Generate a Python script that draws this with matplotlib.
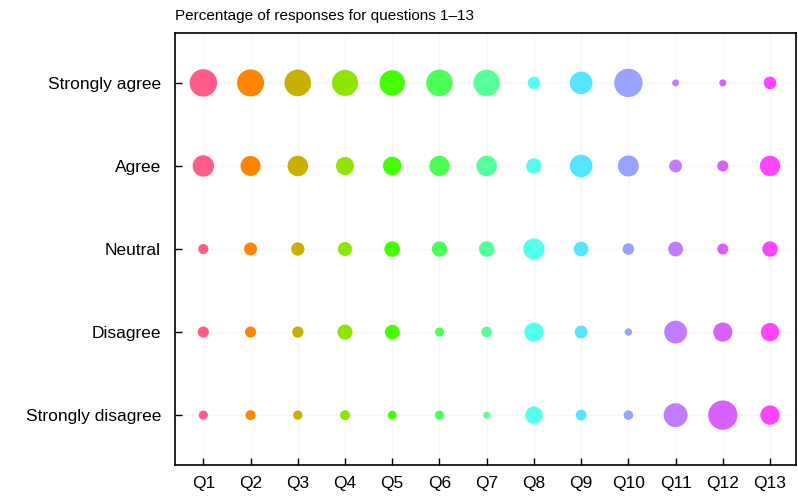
import numpy as np
import matplotlib.pyplot as plt

plt.rcParams['font.family'] = ['Liberation Sans', 'DejaVu Sans']

questions = ['Q1', 'Q2', 'Q3', 'Q4', 'Q5', 'Q6', 'Q7', 'Q8', 'Q9', 'Q10', 'Q11', 'Q12', 'Q13']
responses = ['Strongly agree', 'Agree', 'Neutral', 'Disagree', 'Strongly disagree']

# percentage of responses per question (rows follow `responses`)
strongly_agree = [49.5, 48.0, 46.7, 44.4, 42.3, 46.2, 45.7, 10.3, 33.6, 52.8, 3.2, 3.3, 10.4]
agree = [30.0, 26.3, 27.6, 21.3, 22.6, 27.3, 27.6, 15.7, 33.6, 29.0, 10.9, 8.1, 27.1]
neutral = [6.8, 11.1, 11.7, 12.9, 16.0, 15.4, 16.0, 29.6, 14.3, 8.8, 14.5, 8.1, 15.7]
disagree = [8.2, 8.0, 8.4, 14.8, 14.1, 5.5, 7.6, 24.5, 10.7, 3.6, 34.2, 24.2, 22.2]
strongly_disagree = [5.5, 6.6, 5.6, 6.6, 5.1, 5.5, 3.1, 19.8, 7.7, 5.9, 37.2, 56.3, 24.6]

colors = ['#ff5c8a', '#ff8500', '#c8b000', '#8ee600', '#44ff00', '#4dff55', '#55ff99',
          '#55ffee', '#55e5ff', '#98a2ff', '#c07cff', '#d860ff', '#ff44ff']

data = [strongly_agree, agree, neutral, disagree, strongly_disagree]

fig = plt.figure(figsize=(7.98, 5.01), dpi=100)
ax = fig.add_axes([0.2193, 0.0719, 0.7782, 0.8621])

x = np.arange(len(questions))
for row, vals in enumerate(data):
    y = np.full(len(questions), len(responses) - 1 - row)
    ax.scatter(x, y, s=np.array(vals) * 7.9, c=colors, edgecolors='none', zorder=3)

ax.set_xlim(-0.6, 12.55)
ax.set_ylim(-0.6, 4.6)
ax.set_xticks(x)
ax.set_xticklabels(questions, fontsize=12.5)
ax.set_yticks(np.arange(len(responses)))
ax.set_yticklabels(responses[::-1], fontsize=12.5)
ax.tick_params(direction='in', length=5, width=1)
ax.tick_params(axis='x', pad=8)
ax.tick_params(axis='y', pad=10)
ax.grid(True, color='#f6f6f6', linewidth=0.8, zorder=0)
for sp in ax.spines.values():
    sp.set_linewidth(1.2)

fig.text(0.2193, 0.955, 'Percentage of responses for questions 1\u201313', fontsize=11, ha='left', va='bottom')

plt.savefig('out.png', dpi=100)
